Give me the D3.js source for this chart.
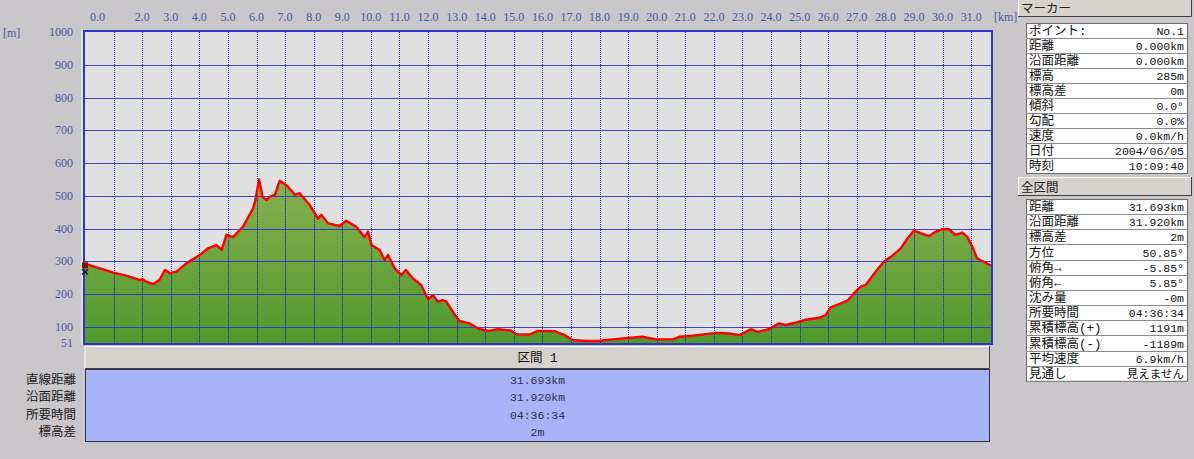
<!DOCTYPE html>
<html><head><meta charset="utf-8">
<script src="https://cdn.jsdelivr.net/npm/d3@7/dist/d3.min.js"></script>
<style>
html,body{margin:0;padding:0;background:#cac7ca;overflow:hidden}
svg{display:block}
</style></head><body>
<svg id="c" width="1194" height="459"></svg>
<script>
// ---- data ----
const kmData = [0.00,0.10,0.99,1.50,1.92,2.00,2.10,2.39,2.60,2.80,2.97,3.20,3.55,4.02,4.31,4.60,4.78,4.95,5.18,5.53,5.88,5.96,6.09,6.21,6.35,6.46,6.64,6.81,6.95,7.10,7.34,7.51,7.86,8.15,8.27,8.50,8.91,9.14,9.49,9.78,9.90,10.02,10.31,10.48,10.60,10.83,11.07,11.22,11.47,11.76,12.00,12.17,12.35,12.50,12.64,12.93,13.10,13.45,13.80,14.15,14.44,14.90,15.08,15.55,15.84,16.42,16.77,17.06,17.53,18.00,18.46,19.10,19.50,19.97,20.56,20.79,21.25,21.72,22.07,22.54,22.89,23.29,23.52,23.93,24.28,24.51,24.87,25.16,25.68,25.91,26.09,26.38,26.67,26.90,27.14,27.31,27.66,27.95,28.19,28.54,28.77,29.00,29.23,29.52,29.76,29.99,30.22,30.45,30.69,30.86,31.04,31.21,31.44,31.65,31.693];
const elevData = [287,290,266,255,243,246,240,231,243,274,264,269,294,320,340,350,335,381,374,406,462,487,550,497,487,497,503,546,538,528,503,508,472,431,442,416,408,424,406,374,391,350,335,304,320,279,258,274,248,228,184,197,177,182,177,138,118,111,93,88,93,89,78,77,88,87,75,60,57,58,62,67,70,62,62,70,73,78,82,80,75,93,85,93,111,106,113,121,128,136,160,170,180,203,223,228,269,299,314,340,370,394,386,377,391,398,398,381,388,375,345,309,299,289,287];
const xTickLabels = ["0.0","2.0","3.0","4.0","5.0","6.0","7.0","8.0","9.0","10.0","11.0","12.0","13.0","14.0","15.0","16.0","17.0","18.0","19.0","20.0","21.0","22.0","23.0","24.0","25.0","26.0","27.0","28.0","29.0","30.0","31.0"];
const yTickLabels = ["1000","900","800","700","600","500","400","300","200","100","51"];
const totalKm = 31.693;
const markerLabels = ["ポイント:","距離","沿面距離","標高","標高差","傾斜","勾配","速度","日付","時刻"];
const markerValues = ["No.1","0.000km","0.000km","285m","0m","0.0°","0.0%","0.0km/h","2004/06/05","10:09:40"];
const summaryLabels = ["距離","沿面距離","標高差","方位","俯角→","俯角←","沈み量","所要時間","累積標高(+)","累積標高(-)","平均速度","見通し"];
const summaryValues = ["31.693km","31.920km","2m","50.85°","-5.85°","5.85°","-0m","04:36:34","1191m","-1189m","6.9km/h","見えません"];
const sectionTitle = "区間 1";
const sectionLabels = ["直線距離","沿面距離","所要時間","標高差"];
const sectionValues = ["31.693km","31.920km","04:36:34","2m"];

// ---- drawing ----
const svg = d3.select("#c");
const data = kmData.map((k,i)=>({k, e: elevData[i]}));
const P = {l:85, r:991, t:32, b:343};
const x = d3.scaleLinear().domain([0,totalKm]).range([P.l,P.r]);
const y = d3.scaleLinear().domain([51,1000]).range([P.b,P.t]);
const numFont = "'Liberation Serif',serif";
const jpFont = "'Liberation Mono','Noto Sans CJK JP',monospace";
const axisCol = "#4656a6";

const defs = svg.append("defs");
const g = defs.append("linearGradient").attr("id","gf").attr("gradientUnits","userSpaceOnUse")
  .attr("x1",0).attr("x2",0).attr("y1",y(560)).attr("y2",y(51));
g.append("stop").attr("offset",0).attr("stop-color","#88b04e");
g.append("stop").attr("offset",1).attr("stop-color","#509a2e");

const area = d3.area().x(d=>x(d.k)).y0(y(51)).y1(d=>y(d.e));
const line = d3.line().x(d=>x(d.k)).y(d=>y(d.e));
defs.append("clipPath").attr("id","ca").append("path").attr("d",area(data));

// plot bg
svg.append("rect").attr("x",P.l).attr("y",P.t).attr("width",P.r-P.l).attr("height",P.b-P.t).attr("fill","#e0e0e0");
svg.append("path").attr("d",area(data)).attr("fill","url(#gf)");

// grid
const hVals = d3.range(100,1000,100);
svg.append("g").selectAll("line").data(hVals).join("line")
  .attr("x1",P.l).attr("x2",P.r).attr("y1",d=>Math.round(y(d))+0.5).attr("y2",d=>Math.round(y(d))+0.5)
  .attr("stroke","#3434d0").attr("stroke-opacity",0.9).attr("stroke-width",1);
const vVals = d3.range(1, Math.floor(totalKm)+1);
svg.append("g").selectAll("line").data(vVals).join("line")
  .attr("x1",d=>Math.round(x(d))+0.5).attr("x2",d=>Math.round(x(d))+0.5).attr("y1",P.t).attr("y2",P.b)
  .attr("stroke","#2828c8").attr("stroke-width",1).attr("stroke-dasharray","1,1");
svg.append("g").attr("clip-path","url(#ca)").selectAll("line").data(vVals).join("line")
  .attr("x1",d=>Math.round(x(d))+0.5).attr("x2",d=>Math.round(x(d))+0.5).attr("y1",P.t).attr("y2",P.b)
  .attr("stroke","#2a3a8a").attr("stroke-opacity",0.35).attr("stroke-width",1);

// profile line
svg.append("path").attr("d",line(data)).attr("fill","none").attr("stroke","#ff0000").attr("stroke-width",2.4).attr("stroke-linejoin","round");

// frame
svg.append("rect").attr("x",P.l-1).attr("y",P.t-1).attr("width",P.r-P.l+2).attr("height",P.b-P.t+2)
  .attr("fill","none").attr("stroke","#3434c4").attr("stroke-width",2);
svg.append("line").attr("x1",P.l-3).attr("x2",P.l-3).attr("y1",P.t-2).attr("y2",P.b+2).attr("stroke","#f4f4f4");

// start marker
const m0 = data[0];
svg.append("rect").attr("x",x(m0.k)-3).attr("y",y(285)-4).attr("width",6).attr("height",6).attr("fill","#8a1010");
svg.append("path").attr("d",`M${x(m0.k)-3},${y(285)+3}l6,5M${x(m0.k)+3},${y(285)+3}l-6,5`).attr("stroke","#222").attr("stroke-width",1.5);

// axis labels
svg.append("text").attr("x",3).attr("y",37).attr("font-family",numFont).attr("font-size",12).attr("fill",axisCol).text("[m]");
svg.append("g").selectAll("text").data(yTickLabels).join("text")
  .attr("x",73).attr("y",d=>y(+d)+4).attr("text-anchor","end")
  .attr("font-family",numFont).attr("font-size",12).attr("fill",axisCol).text(d=>d);
svg.append("g").selectAll("text").data(xTickLabels).join("text")
  .attr("x",d=> +d===0 ? x(0)+5 : x(+d)).attr("y",21).attr("text-anchor",d=> +d===0?"start":"middle")
  .attr("font-family",numFont).attr("font-size",12).attr("fill",axisCol).text(d=>d);
svg.append("text").attr("x",994).attr("y",21).attr("font-family",numFont).attr("font-size",12).attr("fill",axisCol).text("[km]");

// section header + table
const sx0 = 85, sx1 = 990;
svg.append("rect").attr("x",sx0).attr("y",346).attr("width",sx1-sx0).attr("height",23).attr("fill","#d6d3ce");
svg.append("path").attr("d",`M${sx0},369V346.5H${sx1}`).attr("fill","none").attr("stroke","#ffffff");
svg.append("path").attr("d",`M${sx0},368.5H${sx1-0.5}V346`).attr("fill","none").attr("stroke","#404040");
svg.append("text").attr("x",(sx0+sx1)/2).attr("y",362).attr("text-anchor","middle")
  .attr("font-family",jpFont).attr("font-size",12.5).attr("fill","#111").text(sectionTitle);
svg.append("rect").attr("x",sx0+0.5).attr("y",369.5).attr("width",sx1-sx0-1).attr("height",72).attr("fill","#a7b4f9").attr("stroke","#303048");
sectionLabels.forEach((t,i)=>{
  const yy = 384 + i*17.3;
  svg.append("text").attr("x",76).attr("y",yy).attr("text-anchor","end")
    .attr("font-family",jpFont).attr("font-size",12.5).attr("fill","#1a1a1a").text(t);
  svg.append("text").attr("x",(sx0+sx1)/2).attr("y",yy).attr("text-anchor","middle")
    .attr("font-family",jpFont).attr("font-size",11.5).attr("fill","#303050").text(sectionValues[i]);
});

// right panel
function header(y0, h, label){
  svg.append("rect").attr("x",1018).attr("y",y0).attr("width",174).attr("height",h).attr("fill","#d6d3ce");
  svg.append("path").attr("d",`M1018.5,${y0+h}V${y0+0.5}H1192`).attr("fill","none").attr("stroke","#ffffff");
  svg.append("path").attr("d",`M1018,${y0+h-0.5}H1191.5V${y0}`).attr("fill","none").attr("stroke","#404040");
  svg.append("text").attr("x",1021).attr("y",y0+h-4).attr("font-family",jpFont)
    .attr("font-size",12.5).attr("fill","#222").text(label);
}
function table(y0, rowH, labels, values){
  const x0 = 1026, x1 = 1187, h = rowH*labels.length;
  svg.append("rect").attr("x",x0+0.5).attr("y",y0+0.5).attr("width",x1-x0).attr("height",h).attr("fill","#ffffff").attr("stroke","#6c6c6c");
  labels.forEach((t,i)=>{
    const ry = y0 + i*rowH;
    if(i>0) svg.append("line").attr("x1",x0).attr("x2",x1).attr("y1",Math.round(ry)+0.5).attr("y2",Math.round(ry)+0.5).attr("stroke","#8c8c8c");
    svg.append("text").attr("x",x0+3).attr("y",ry+rowH-3).attr("font-family",jpFont)
      .attr("font-size",12.5).attr("fill","#111").text(t);
    svg.append("text").attr("x",x1-3).attr("y",ry+rowH-3).attr("text-anchor","end").attr("font-family",jpFont)
      .attr("font-size",11.5).attr("fill","#111").text(values[i]);
  });
}
header(-2, 19, "マーカー");
table(23, 15, markerLabels, markerValues);
header(177, 19, "全区間");
table(199, 15.15, summaryLabels, summaryValues);
</script>
</body></html>
